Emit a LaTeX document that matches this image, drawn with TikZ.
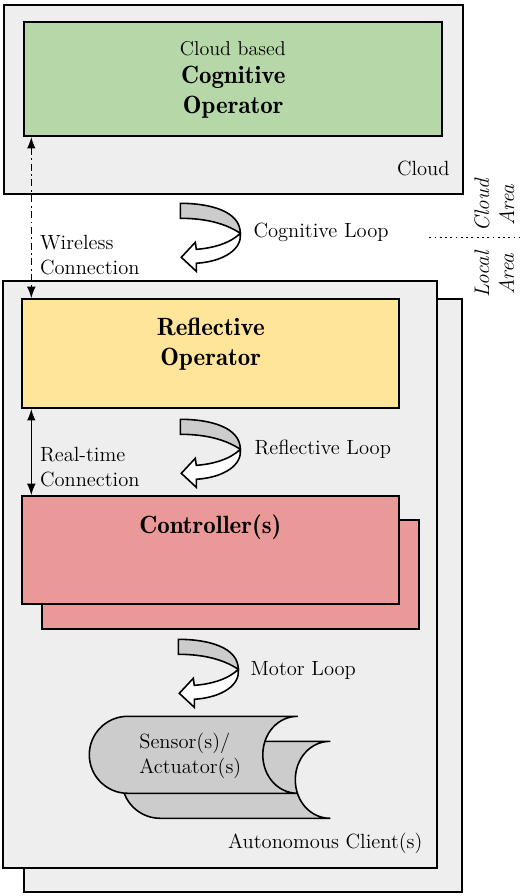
\documentclass[tikz,border=0pt]{standalone}
\usetikzlibrary{arrows.meta}
\definecolor{boxgrey}{HTML}{EEEEEE}
\definecolor{shapegrey}{HTML}{CCCCCC}
\definecolor{cloudgreen}{HTML}{B6D7A8}
\definecolor{opyellow}{HTML}{FFE599}
\definecolor{ctrlred}{HTML}{EA9999}
\tikzset{
  areabox/.style={draw,fill=boxgrey,line width=0.9pt,anchor=north west,inner sep=0pt},
  opbox/.style={draw,line width=0.9pt,anchor=north west,inner sep=0pt},
  bodytext/.style={font=\fontsize{11.7}{14.2}\selectfont,align=left},
  titletext/.style={font=\fontsize{14.2}{17}\selectfont\fontseries{b}\selectfont,align=center},
  areatext/.style={font=\fontsize{12}{14.2}\selectfont\itshape,rotate=90,align=center},
  looparrow/.pic={
    \draw[line width=0.9pt,fill=shapegrey] (-60,-30) .. controls (-30,-30) and (0,-22) .. (0,0)
      .. controls (-15,-10) and (-35,-15) .. (-60,-15) -- cycle;
    \draw[line width=0.9pt,fill=white] (0,0) .. controls (-10,10) and (-28,15) .. (-44,16)
      -- (-45,9) -- (-59,24) -- (-44,38) -- (-44,30) .. controls (-15,28) and (2,15) .. (0,0) -- cycle;
  },
  tapeshape/.pic={
    \draw[line width=0.9pt,fill=shapegrey] (170,-38.5) -- (0,-38.5)
      .. controls (-21.3,-38.5) and (-38.5,-21.3) .. (-38.5,0)
      .. controls (-38.5,21.3) and (-21.3,38.5) .. (0,38.5) -- (170,38.5)
      .. controls (150,38.5) and (135,21.3) .. (135,0)
      .. controls (135,-21.3) and (150,-38.5) .. (170,-38.5);
  }
}
\begin{document}
\begin{tikzpicture}[x=0.02cm,y=-0.02cm]
\useasboundingbox (0.7,0.7) rectangle (523.7,896.7);
% cloud side
\node[areabox,minimum width=459*0.02cm,minimum height=189*0.02cm] (cloudbox) at (4,5) {};
\node[opbox,fill=cloudgreen,minimum width=418*0.02cm,minimum height=114*0.02cm] (cognitive) at (24,22) {};
\node[bodytext,font=\fontsize{11.4}{14.2}\selectfont] (cloudbased) at (233.5,49.5) {Cloud based};
\node[titletext] (cognitivetext) at (234,93) {Cognitive\\Operator};
\node[bodytext] (cloudlabel) at (424,169.5) {Cloud};
% client side
\node[areabox,minimum width=438*0.02cm,minimum height=593*0.02cm] (clientback) at (24,299) {};
\node[areabox,minimum width=434*0.02cm,minimum height=587*0.02cm] (clientfront) at (3,281) {};
\node[opbox,fill=opyellow,minimum width=377*0.02cm,minimum height=109*0.02cm] (reflective) at (22,299) {};
\node[titletext] (reflectivetext) at (211.5,345) {Reflective\\Operator};
\node[opbox,fill=ctrlred,minimum width=377*0.02cm,minimum height=109*0.02cm] (controllerback) at (42,520) {};
\node[opbox,fill=ctrlred,minimum width=377*0.02cm,minimum height=108*0.02cm] (controller) at (22,496) {};
\node[titletext] (controllertext) at (211,527.5) {Controller(s)};
% loops
\pic at (241,234) {looparrow};
\pic at (241,450) {looparrow};
\pic at (239,670) {looparrow};
\node[bodytext,anchor=west] (cognitiveloop) at (248,233) {Cognitive Loop};
\node[bodytext,anchor=west] (reflectiveloop) at (249,450) {Reflective Loop};
\node[bodytext,anchor=west] (motorloop) at (245,671) {Motor Loop};
% sensors
\pic at (161,780.5) {tapeshape};
\pic at (128.5,755.5) {tapeshape};
\node[bodytext] (sensortext) at (191,757) {Sensor(s)/\\Actuator(s)};
\node[bodytext] (clientlabel) at (326,844) {Autonomous Client(s)};
% connections
\draw[Latex-Latex,dash pattern=on 4pt off 2pt on 1pt off 2pt,line width=0.8pt] ([xshift=8*0.02cm]cognitive.south west) -- ([xshift=10*0.02cm]reflective.north west);
\node[bodytext,anchor=west] (wirelesstext) at (34.5,256) {Wireless\\Connection};
\draw[Latex-Latex,line width=0.8pt] ([xshift=10*0.02cm]reflective.south west) -- ([xshift=10*0.02cm]controller.north west);
\node[bodytext,anchor=west] (realtimetext) at (34.5,468) {Real-time\\Connection};
% areas
\coordinate (dividerleft) at (430,238);
\coordinate (dividerright) at (520,238);
\draw[dash pattern=on 1pt off 2pt,line width=0.8pt] (dividerleft) -- (dividerright);
\node[areatext] (cloudarea) at (495,206) {Cloud\\Area};
\node[areatext] (localarea) at (495,275) {Local\\Area};
\end{tikzpicture}
\end{document}
